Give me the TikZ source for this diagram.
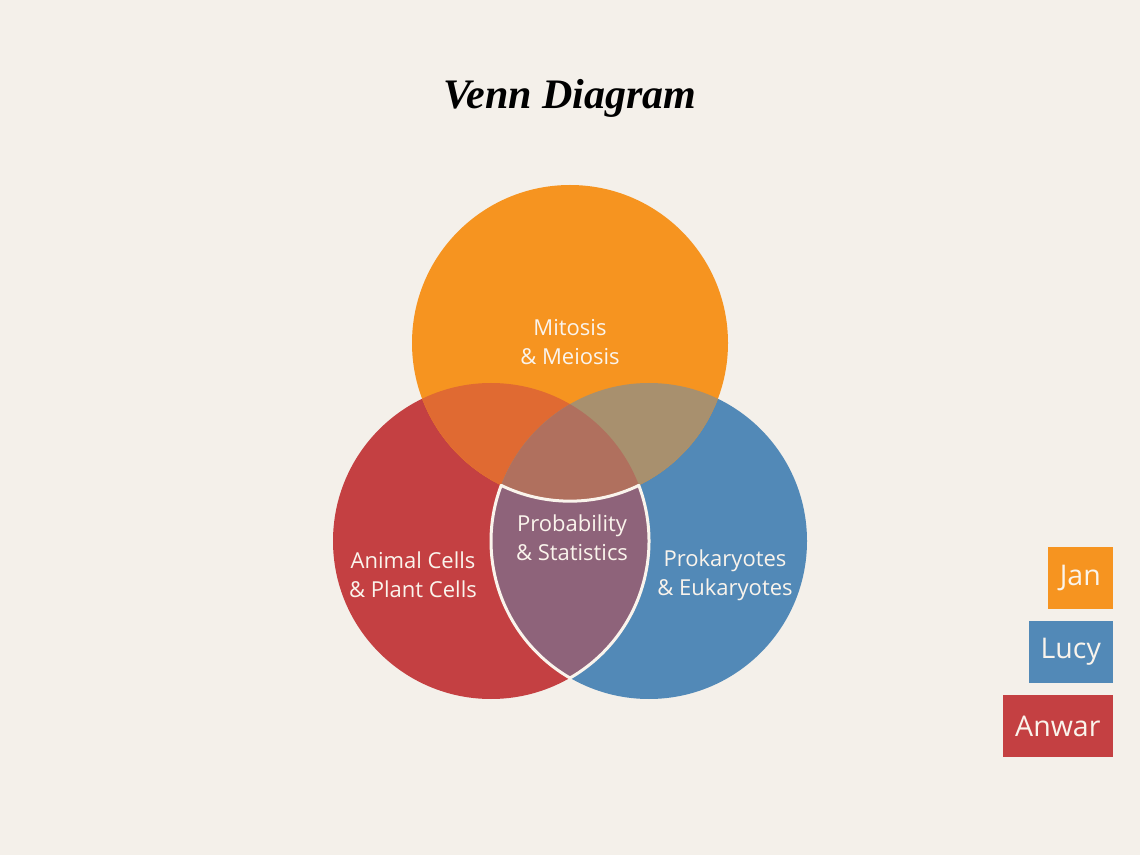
\documentclass[tikz,border=0pt]{standalone}
\usepackage{fontspec}
\setmainfont{Open Sans}
\newfontfamily\titlefont{Liberation Serif}
\definecolor{bg}{HTML}{F4F0EA}
\definecolor{corange}{RGB}{246,148,32}
\definecolor{cred}{RGB}{196,64,66}
\definecolor{cblue}{RGB}{82,137,183}
\definecolor{cOR}{RGB}{224,106,50}
\definecolor{cOB}{RGB}{168,144,110}
\definecolor{cORB}{RGB}{176,112,94}
\definecolor{cRB}{RGB}{142,99,122}
\definecolor{ctext}{RGB}{250,244,236}
\tikzset{
  lbl/.style={text=ctext, font=\fontsize{22}{29}\selectfont, align=center, inner sep=0pt},
  legendbox/.style={text=ctext, font=\fontsize{28.5}{32}\selectfont, minimum height=62pt, inner sep=0pt, anchor=east}
}
\begin{document}
\begin{tikzpicture}[x=1pt,y=1pt]
\fill[bg] (0,0) rectangle (1140,855);
\useasboundingbox (0,0) rectangle (1140,855);
\coordinate (O) at (570,512);
\coordinate (R) at (491,314);
\coordinate (B) at (649,314);
\def\rr{158}
% base circles
\fill[cred] (R) circle[radius=\rr];
\fill[cblue] (B) circle[radius=\rr];
\fill[corange] (O) circle[radius=\rr];
% overlaps
\begin{scope}
  \clip (R) circle[radius=\rr];
  \fill[cOR] (O) circle[radius=\rr];
\end{scope}
\begin{scope}
  \clip (B) circle[radius=\rr];
  \fill[cOB] (O) circle[radius=\rr];
\end{scope}
\begin{scope}
  \clip (R) circle[radius=\rr];
  \clip (B) circle[radius=\rr];
  \fill[cORB] (O) circle[radius=\rr];
\end{scope}
% lens red-blue minus orange
\coordinate (lensbottom) at (570,177);
\filldraw[fill=cRB, draw=ctext, line width=3pt, line join=round]
  (lensbottom) arc[start angle=-60, end angle=20.67, radius=\rr]
  arc[start angle=-64.18, end angle=-115.82, radius=\rr]
  arc[start angle=159.33, end angle=240, radius=\rr] -- cycle;
% labels
\node[lbl] (mit) at (570,513) {Mitosis\\\& Meiosis};
\node[lbl] (ani) at (413,280) {Animal Cells\\\& Plant Cells};
\node[lbl] (pro) at (572,317) {Probability\\\& Statistics};
\node[lbl] (prk) at (725,280) {Prokaryotes\\\& Eukaryotes};
% title
\node[font=\titlefont\bfseries\itshape\fontsize{42}{48}\selectfont, text=black] (title) at (570,757) {Venn Diagram};
% legend
\node[legendbox, fill=corange, minimum width=65pt] (jan) at (1113,277) {Jan};
\node[legendbox, fill=cblue, minimum width=84pt] (lucy) at (1113,203) {Lucy};
\node[legendbox, fill=cred, minimum width=110pt] (anwar) at (1113,129) {Anwar};
\end{tikzpicture}
\end{document}
